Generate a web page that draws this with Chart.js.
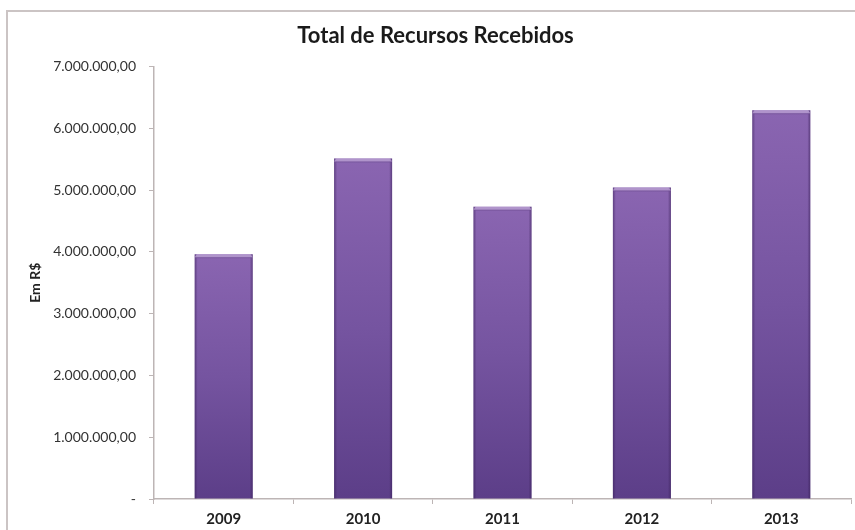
<!DOCTYPE html>
<html>
<head>
<meta charset="utf-8">
<script src="https://cdn.jsdelivr.net/npm/chart.js@4.4.1/dist/chart.umd.min.js"></script>
<style>
  html, body { margin: 0; padding: 0; background: #ffffff; }
  #wrap { position: relative; width: 855px; height: 530px; overflow: hidden; }
  #frame { position: absolute; left: 6px; top: 10px; width: 900px; height: 600px;
           border-left: 2px solid #cbc4c4; border-top: 2px solid #cbc4c4; }
  canvas { position: absolute; left: 0; top: 0; }
</style>
</head>
<body>
<div id="wrap">
  <div id="frame"></div>
  <canvas id="c" width="855" height="530"></canvas>
</div>
<script>
// Annual totals received (R$)
const years = ['2009', '2010', '2011', '2012', '2013'];
const totals = [3960000, 5510000, 4730000, 5040000, 6290000];
const axisMax = 7000000;
const axisStep = 1000000;

const FONT = 'Lato, "Open Sans", sans-serif';

// Brazilian number format: 7.000.000,00 ; zero shown as "-"
function formatBRL(v) {
  if (v === 0) return '-';
  const parts = v.toFixed(2).split('.');
  const intPart = parts[0].replace(/\B(?=(\d{3})+(?!\d))/g, '.');
  return intPart + ',' + parts[1];
}

// Vertical purple gradient for each bar, spanning from its value down to zero
function barFill(ctx) {
  const chart = ctx.chart;
  const y = chart.scales && chart.scales.y;
  if (!y || ctx.raw === undefined) return '#7a57a3';
  const top = y.getPixelForValue(ctx.raw);
  const base = y.getPixelForValue(0);
  if (!isFinite(top) || !isFinite(base) || top === base) return '#7a57a3';
  const g = chart.ctx.createLinearGradient(0, top, 0, base);
  g.addColorStop(0, '#8a65b1');
  g.addColorStop(0.5, '#7554a0');
  g.addColorStop(1, '#5c3e88');
  return g;
}

// Soft bevel on the bar tops and side edges
const bevel = {
  id: 'bevel',
  afterDatasetsDraw(chart) {
    const c = chart.ctx;
    const meta = chart.getDatasetMeta(0);
    meta.data.forEach(bar => {
      const l = bar.x - bar.width / 2, r = bar.x + bar.width / 2;
      const t = bar.y, b = bar.base;
      c.save();
      // side shading
      let g = c.createLinearGradient(l, 0, l + 3, 0);
      g.addColorStop(0, 'rgba(55,30,85,0.5)');
      g.addColorStop(1, 'rgba(55,30,85,0)');
      c.fillStyle = g; c.fillRect(l, t, 3, b - t);
      g = c.createLinearGradient(r - 3, 0, r, 0);
      g.addColorStop(0, 'rgba(55,30,85,0)');
      g.addColorStop(1, 'rgba(55,30,85,0.55)');
      c.fillStyle = g; c.fillRect(r - 3, t, 3, b - t);
      // top highlight rim
      c.beginPath();
      c.moveTo(l, t + 3); c.lineTo(l + 2, t); c.lineTo(r - 2, t); c.lineTo(r, t + 3); c.closePath();
      c.fillStyle = 'rgba(185,160,210,0.8)';
      c.fill();
      c.fillStyle = 'rgba(95,65,125,0.35)';
      c.fillRect(l + 2, t + 3, r - l - 4, 1);
      c.restore();
    });
  }
};

new Chart(document.getElementById('c'), {
  type: 'bar',
  data: {
    labels: years,
    datasets: [{
      data: totals,
      backgroundColor: barFill,
      borderWidth: 0,
      barPercentage: 0.8,
      categoryPercentage: 0.52
    }]
  },
  options: {
    responsive: false,
    animation: false,
    events: [],
    layout: { padding: { left: 20, right: 4, top: 0, bottom: 0 } },
    plugins: {
      legend: { display: false },
      tooltip: { enabled: false },
      title: {
        display: true,
        text: 'Total de Recursos Recebidos',
        color: '#1a1a1a',
        font: { family: FONT, size: 22, weight: 'bold' },
        padding: { top: 23, bottom: 17 }
      }
    },
    scales: {
      x: {
        grid: { display: true, drawOnChartArea: false, drawTicks: true, tickLength: 5, color: '#bdb5b5', offset: true },
        border: { display: true, color: '#bdb5b5', width: 1.5 },
        ticks: { color: '#222', padding: 6, font: { family: FONT, size: 15, weight: 'bold' } },
        afterFit(scale) { scale.height = 31; }
      },
      y: {
        min: 0,
        max: axisMax,
        grid: { display: true, drawOnChartArea: false, drawTicks: true, tickLength: 5, color: '#bdb5b5' },
        border: { display: true, color: '#bdb5b5', width: 1.5 },
        ticks: {
          stepSize: axisStep,
          color: '#333',
          padding: 13,
          font: { family: FONT, size: 14 },
          callback: v => formatBRL(v)
        },
        title: {
          display: true,
          text: 'Em R$',
          color: '#222',
          font: { family: FONT, size: 14, weight: 'bold' },
          padding: { top: 7, bottom: 0 }
        },
        afterFit(scale) { scale.width = 134; }
      }
    }
  },
  plugins: [bevel]
});
</script>
</body>
</html>
